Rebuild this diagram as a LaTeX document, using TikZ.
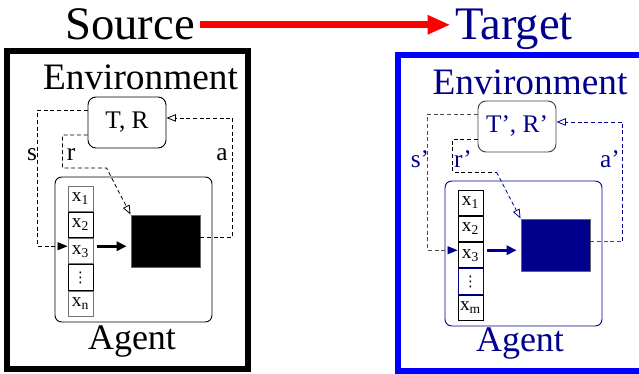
\documentclass[tikz,border=0pt]{standalone}
\usepackage{fontspec}
\setmainfont{Liberation Serif}
\newfontfamily\dotsfont{DejaVu Sans}
\usetikzlibrary{arrows.meta,calc,positioning}
\definecolor{TgtNavy}{RGB}{0,0,140}
\definecolor{TgtBlue}{RGB}{0,0,255}
\definecolor{ArrowRed}{RGB}{255,0,0}

\newcommand{\celldots}{{\dotsfont\fontsize{11}{12}\selectfont ⋮}}

\tikzset{
  titletext/.style={font=\fontsize{35}{40}\selectfont, anchor=base},
  bigtext/.style={font=\fontsize{28}{32}\selectfont, anchor=base},
  agenttext/.style={font=\fontsize{27}{30}\selectfont, anchor=base},
  envbox/.style={draw, rounded corners=6pt, minimum width=58.5pt, minimum height=38.25pt, font=\fontsize{19}{22}\selectfont},
  agentbox/.style={draw, rounded corners=5pt, minimum width=117.75pt, minimum height=108.75pt},
  cell/.style={draw=black!55, minimum width=18.75pt, minimum height=19pt, inner sep=0pt, font=\fontsize{14.5}{15}\selectfont},
  policy/.style={draw=black!60, minimum width=51.75pt, minimum height=39pt},
  sig/.style={dash pattern=on 3pt off 2pt, line width=0.6pt},
  siglabel/.style={font=\fontsize{19}{22}\selectfont},
  fullhead/.style={-{Triangle[length=7.5pt,width=6pt]}},
  openhead/.style={-{Triangle[open,length=7pt,width=5.5pt]}},
  memarrow/.style={line width=2.6pt, -{Triangle[length=7.5pt,width=7pt]}},
}

\begin{document}
\begin{tikzpicture}[x=0.75pt, y=-0.75pt, line width=0.7pt]
\useasboundingbox (0,0) rectangle (639,374);

% title
\node[titletext] (src) at (130,40) {Source};
\node[titletext, text=TgtNavy] (tgt) at (514,40) {Target};
\draw[ArrowRed, line width=5pt, -{Triangle[length=17pt,width=13.5pt]}] (src.east) -- (src.east -| tgt.west);

% source side
\draw[line width=4.5pt] (6.5,51) rectangle (248,369);
\node[bigtext] (srcEnv) at (140.5,90) {Environment};
\node[agenttext] (srcAgentTxt) at (132,349) {Agent};
\node[envbox] (srcTR) at (127,122.5) {T, R};
\node[agentbox] (srcAg) at (133.5,249.5) {};
\node[cell] (srcM1) at (80.5,198.7) {x\textsubscript{1}};
\node[cell, draw=black, below=0pt of srcM1] (srcM2) {x\textsubscript{2}};
\node[cell, below=0pt of srcM2] (srcM3) {x\textsubscript{3}};
\node[cell, draw=black, below=0pt of srcM3] (srcM4) {\celldots};
\node[cell, below=0pt of srcM4] (srcM5) {x\textsubscript{n}};
\node[policy, fill=black] (srcPi) at (165.5,241) {};
\draw[memarrow] ([xshift=3pt,yshift=3.75pt]srcM3.east) -- ([xshift=-3pt,yshift=3.75pt]srcM3.east -| srcPi.west);
\draw[sig, fullhead] ([yshift=9.4pt]srcTR.west) -- ++(-50,0) |- ([yshift=3.75pt]srcM3.west);
\draw[sig, openhead] ([yshift=-9.4pt]srcTR.west) -- ++(-25,0) -- ++(0,33) -- ++(44,0) -- (srcPi.north west);
\draw[sig, openhead] ([yshift=3pt]srcPi.east) -- ++(32,0) |- ([yshift=3.4pt]srcTR.east);
\node[siglabel] (srcS) at (32,155) {s};
\node[siglabel] (srcR) at (71,155) {r};
\node[siglabel] (srcA) at (222,155) {a};

% target side
\draw[TgtBlue, line width=4.5pt] (398,55) rectangle (650,371);
\begin{scope}[shift={(390,4)}]
\node[bigtext, text=TgtNavy] (tgtEnv) at (140,91) {Environment};
\node[agenttext, text=TgtNavy] (tgtAgentTxt) at (130,347) {Agent};
\node[envbox, draw=black!75, text=TgtNavy] (tgtTR) at (127,122.5) {T', R'};
\node[agentbox, draw=TgtNavy] (tgtAg) at (133.5,249.5) {};
\node[cell, draw=black] (tgtM1) at (80.5,198.7) {x\textsubscript{1}};
\node[cell, draw=black, below=0pt of tgtM1] (tgtM2) {x\textsubscript{2}};
\node[cell, draw=black, below=0pt of tgtM2] (tgtM3) {x\textsubscript{3}};
\node[cell, draw=TgtNavy, below=0pt of tgtM3] (tgtM4) {\celldots};
\node[cell, draw=black, below=0pt of tgtM4] (tgtM5) {x\textsubscript{m}};
\node[policy, fill=TgtNavy] (tgtPi) at (165.5,241) {};
\draw[memarrow, TgtNavy] ([xshift=3pt,yshift=3.75pt]tgtM3.east) -- ([xshift=-3pt,yshift=3.75pt]tgtM3.east -| tgtPi.west);
\draw[sig, black!70, -{Triangle[length=7.5pt,width=6pt,color=TgtNavy]}] ([yshift=9.4pt]tgtTR.west) -- ++(-50,0) |- ([yshift=3.75pt]tgtM3.west);
\draw[sig] ([yshift=-9.4pt]tgtTR.west) -- ++(-25,0) -- ++(0,33) -- ++(44,0) coordinate (tgtRbend);
\draw[sig, TgtNavy, openhead] (tgtRbend) -- (tgtPi.north west);
\draw[sig, black!70] ([yshift=3pt]tgtPi.east) -- ++(32,0) coordinate (tgtAbend);
\draw[sig, TgtNavy, openhead] (tgtAbend) |- ([yshift=3.4pt]tgtTR.east);
\node[siglabel, text=TgtNavy] (tgtS) at (30,155) {s'};
\node[siglabel, text=TgtNavy] (tgtR) at (73,155) {r'};
\node[siglabel, text=TgtNavy] (tgtA) at (220,155) {a'};
\end{scope}
\end{tikzpicture}
\end{document}
